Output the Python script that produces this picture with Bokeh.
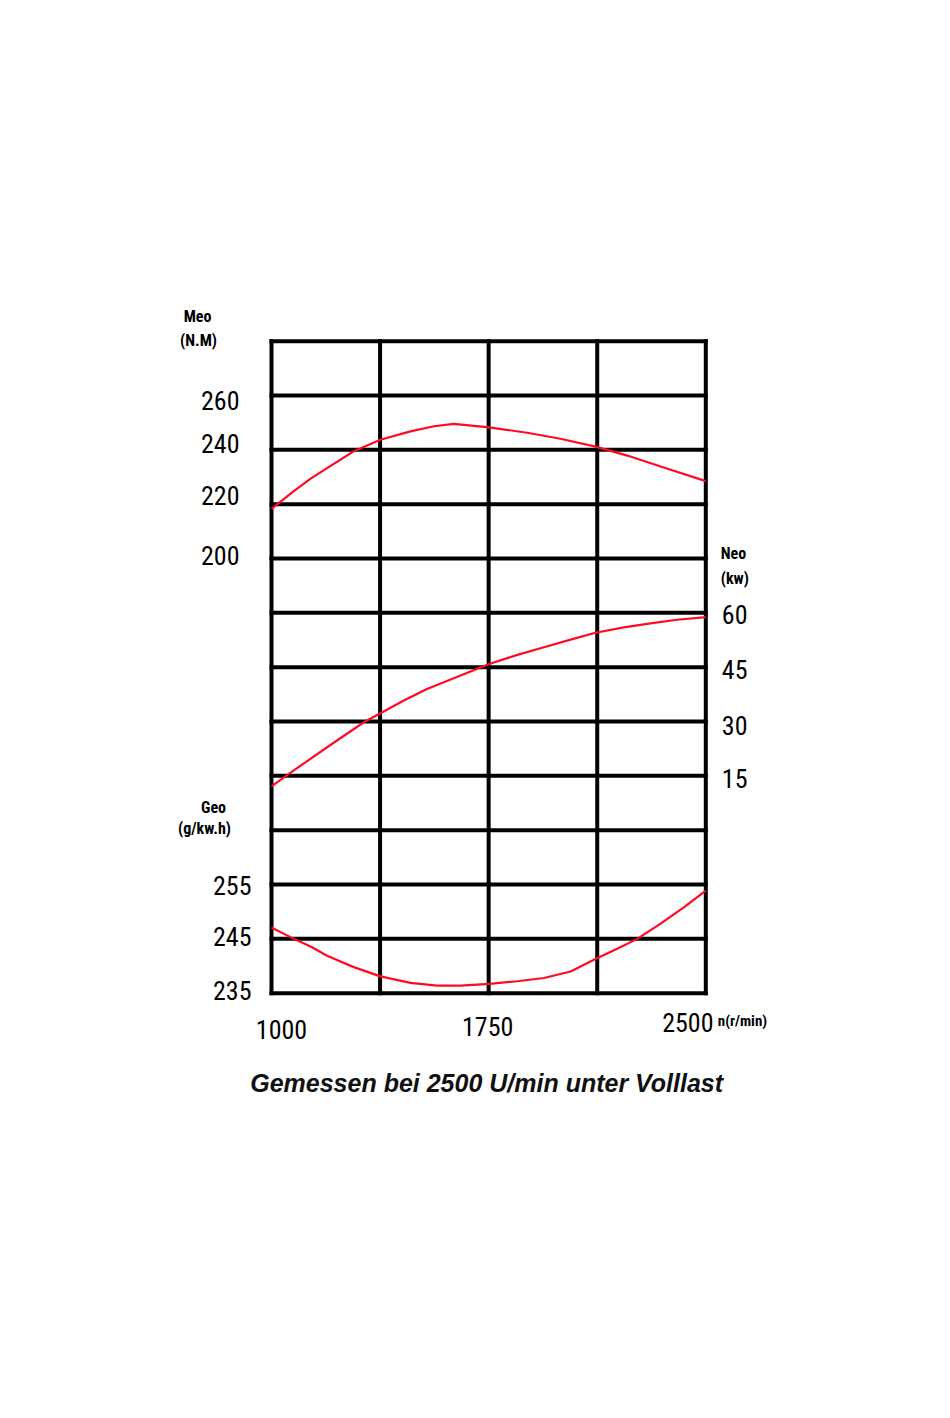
from bokeh.plotting import figure
from bokeh.models import Range1d, ColumnDataSource
from bokeh.core.properties import value
from bokeh.embed import file_html
from bokeh.resources import INLINE

# ---------------- data ----------------
rpm_grid = [1000, 1375, 1750, 2125, 2500]
rpm_ticks = [1000, 1750, 2500]
grid_rows = list(range(13))

torque_ticks = [200, 220, 240, 260]
power_ticks = [15, 30, 45, 60]
fuel_ticks = [235, 245, 255]

torque_rpm = [1000, 1077, 1135, 1192, 1284, 1376, 1480, 1561, 1630, 1752, 1883,
              1998, 2119, 2229, 2344, 2500]
torque_nm = [218.3, 224.8, 229.4, 233.3, 239.5, 243.7, 246.8, 248.7, 249.6, 248.3,
             246.3, 244.1, 241.2, 237.9, 233.9, 228.5]

power_rpm = [1000, 1077, 1192, 1319, 1376, 1457, 1537, 1653, 1752, 1849, 1941,
             2033, 2119, 2217, 2309, 2401, 2500]
power_kw = [12.1, 16.5, 22.9, 29.8, 32.3, 35.8, 39.0, 42.7, 45.9, 48.4, 50.5,
            52.6, 54.5, 56.0, 57.1, 58.1, 58.8]

fuel_rpm = [1000, 1077, 1135, 1192, 1284, 1376, 1480, 1572, 1653, 1752, 1849,
            1941, 2033, 2119, 2194, 2263, 2344, 2424, 2500]
fuel_gkwh = [247.1, 245.0, 243.6, 241.9, 239.8, 238.1, 236.9, 236.4, 236.4, 236.7,
             237.2, 237.8, 239.0, 241.3, 243.2, 245.0, 247.8, 250.8, 253.9]

caption = "Gemessen bei 2500 U/min unter Volllast"

# ---------------- layout ----------------
FIG_W, FIG_H = 934, 1400
GRID_L, GRID_R, GRID_T, GRID_B = 271.0, 705.3, 340.7, 992.7   # grid box in page px
N_ROWS = 12
px_per_rpm = (GRID_R - GRID_L) / (rpm_grid[-1] - rpm_grid[0])
px_per_row = (GRID_B - GRID_T) / N_ROWS

x_start = rpm_grid[0] - GRID_L / px_per_rpm
x_end = rpm_grid[-1] + (FIG_W - GRID_R) / px_per_rpm
row_start = -(FIG_H - GRID_B) / px_per_row
row_end = GRID_B / px_per_row

# scale of each quantity per grid row
T0_ROW, T0, T_STEP = 8, 200, 20      # torque 200 N.m on row 8, 20 per row
P0_ROW, P0, P_STEP = 3, 0, 15        # power 0 kW on row 3, 15 per row
G0_ROW, G0, G_STEP = 0, 235, 10      # fuel 235 g/kWh on row 0, 10 per row

# hand-lettered label jitter of the original drawing (screen px, + = right/down)
torque_lbl_dy = [-3, -9, -6, 5]
fuel_lbl_dy = [-3, -2, 1]
power_lbl_dy = [3, 4, 2, 2]
rpm_lbl_dx = [10, -1, -18]
rpm_lbl_dy = [36, 33, 29]

def rng(r0, v0, step):
    return Range1d(v0 + (row_start - r0) * step, v0 + (row_end - r0) * step)

RED = "#ff0a22"
TICK_FONT = "Liberation Sans Narrow, Roboto Condensed, Liberation Sans"
UNIT_FONT = "Liberation Sans Narrow, Roboto Condensed, Liberation Sans"

p = figure(width=FIG_W, height=FIG_H, min_border=0,
           x_range=Range1d(x_start, x_end), y_range=Range1d(row_start, row_end),
           x_axis_location=None, y_axis_location=None, title=None,
           output_backend="svg", toolbar_location=None)
p.grid.visible = False
p.outline_line_color = None
p.background_fill_color = "white"
p.border_fill_color = "white"

p.extra_y_ranges = {
    "torque": rng(T0_ROW, T0, T_STEP),
    "power": rng(P0_ROW, P0, P_STEP),
    "fuel": rng(G0_ROW, G0, G_STEP),
}

# grid (vertical + horizontal lines)
n = len(rpm_grid)
m = len(grid_rows)
p.segment(x0=rpm_grid, y0=[grid_rows[0]] * n, x1=rpm_grid, y1=[grid_rows[-1]] * n,
          line_color="black", line_width=4, line_cap="square")
p.segment(x0=[rpm_grid[0]] * m, y0=grid_rows, x1=[rpm_grid[-1]] * m, y1=grid_rows,
          line_color="black", line_width=4, line_cap="square")

# curves
p.line(torque_rpm, torque_nm, y_range_name="torque", line_color=RED, line_width=2.2)
p.line(power_rpm, power_kw, y_range_name="power", line_color=RED, line_width=2.2)
p.line(fuel_rpm, fuel_gkwh, y_range_name="fuel", line_color=RED, line_width=2.2)

def texts(xs, ys, labels, align, baseline="middle", dx=0, dy=0, size="26px",
          font=TICK_FONT, style="normal", color="black", y_range_name="default"):
    k = len(labels)
    dxs = dx if isinstance(dx, list) else [dx] * k
    dys = dy if isinstance(dy, list) else [dy] * k
    src = ColumnDataSource(dict(x=xs, y=ys, text=labels, dx=dxs, dy=dys))
    p.text(x="x", y="y", text="text", source=src, y_range_name=y_range_name,
           x_offset="dx", y_offset="dy", text_align=align, text_baseline=baseline,
           text_font=value(font), text_font_size=value(size),
           text_font_style=style, text_color=color)

# tick labels
texts([rpm_grid[0]] * len(torque_ticks), torque_ticks, [str(v) for v in torque_ticks],
      "right", dx=-32, dy=torque_lbl_dy, y_range_name="torque")
texts([rpm_grid[0]] * len(fuel_ticks), fuel_ticks, [str(v) for v in fuel_ticks],
      "right", dx=-20, dy=fuel_lbl_dy, y_range_name="fuel")
texts([rpm_grid[-1]] * len(power_ticks), power_ticks, [str(v) for v in power_ticks],
      "left", dx=16, dy=power_lbl_dy, y_range_name="power")
texts(rpm_ticks, [grid_rows[0]] * len(rpm_ticks), [str(v) for v in rpm_ticks],
      "center", dx=rpm_lbl_dx, dy=rpm_lbl_dy)

# unit labels
L, R = rpm_grid[0], rpm_grid[-1]
TOP, BOT = grid_rows[-1], grid_rows[0]
texts([L], [TOP], ["Meo"], "center", dx=-74, dy=-25, size="16px", font=UNIT_FONT, style="bold")
texts([L], [TOP], ["(N.M)"], "center", dx=-73, dy=-1, size="16px", font=UNIT_FONT, style="bold")
texts([R], [TOP], ["Neo"], "left", dx=15, dy=212, size="16px", font=UNIT_FONT, style="bold")
texts([R], [TOP], ["(kw)"], "left", dx=15, dy=237, size="16px", font=UNIT_FONT, style="bold")
texts([L], [BOT], ["Geo"], "center", dx=-58, dy=-186, size="16px", font=UNIT_FONT, style="bold")
texts([L], [BOT], ["(g/kw.h)"], "center", dx=-67, dy=-165, size="16px", font=UNIT_FONT, style="bold")
texts([R], [BOT], ["n(r/min)"], "left", dx=12, dy=28, size="15px", font=UNIT_FONT, style="bold")

# caption
texts([(rpm_grid[0] + rpm_grid[-1]) / 2], [BOT], [caption], "center", baseline="alphabetic",
      dx=-2, dy=90, size="25px", font="Liberation Sans", style="bold italic", color="#111111")

open("out.html", "w").write(file_html(p, INLINE))
